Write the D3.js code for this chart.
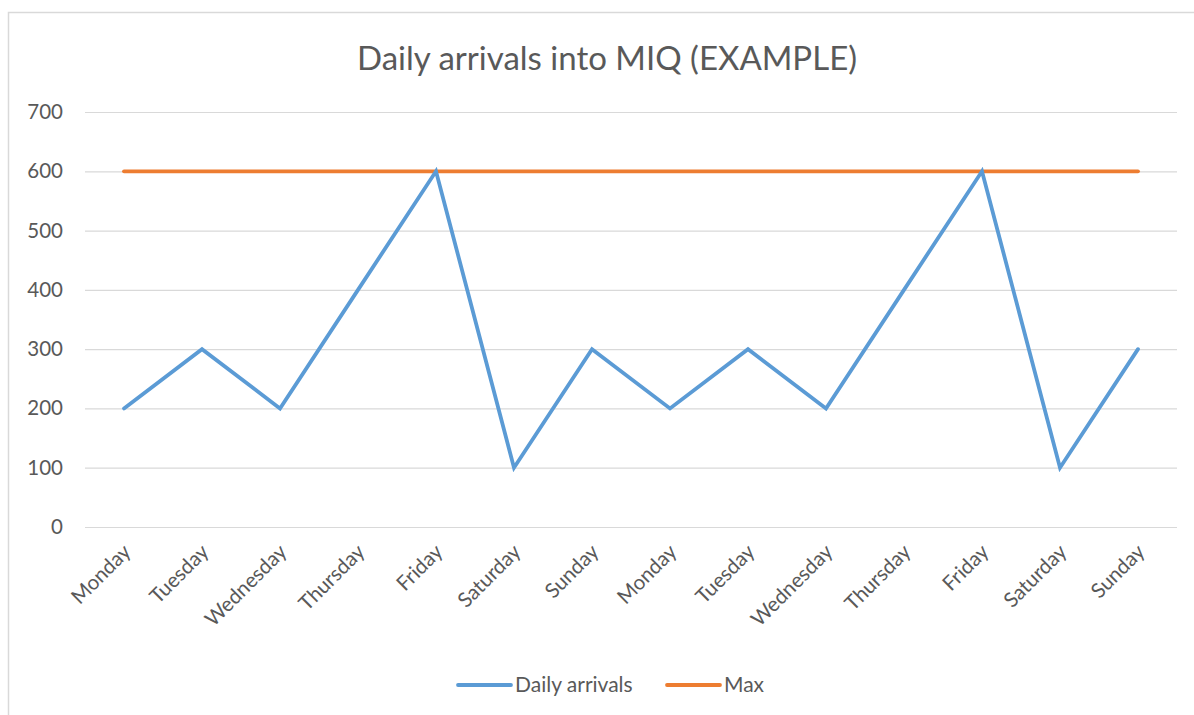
<!DOCTYPE html>
<html>
<head>
<meta charset="utf-8">
<script src="https://cdn.jsdelivr.net/npm/d3@7"></script>
<style>
  body { margin: 0; background: #fff; }
  svg text { font-family: Lato, "Open Sans", sans-serif; fill: #595959; }
</style>
</head>
<body>
<div id="chart"></div>
<script>
// Chart data
const days = ['Monday', 'Tuesday', 'Wednesday', 'Thursday', 'Friday', 'Saturday', 'Sunday',
	'Monday', 'Tuesday', 'Wednesday', 'Thursday', 'Friday', 'Saturday', 'Sunday'];
const arrivals = [200, 300, 200, 400, 600, 100, 300, 200, 300, 200, 400, 600, 100, 300];
const maxValues = [600, 600, 600, 600, 600, 600, 600, 600, 600, 600, 600, 600, 600, 600];
const yTicks = [0, 100, 200, 300, 400, 500, 600, 700];

const width = 1194;
const height = 715;
const marginTop = 112;
const marginRight = 17;
const marginBottom = 188;
const marginLeft = 85;

const svg = d3.select('#chart')
	.append('svg')
	.attr('width', width)
	.attr('height', height)
	.attr('viewBox', [0, 0, width, height]);

// Outer frame
svg.append('rect')
	.attr('x', 8.5)
	.attr('y', 12.5)
	.attr('width', width)
	.attr('height', height)
	.attr('fill', 'none')
	.attr('stroke', '#d9d9d9')
	.attr('stroke-width', 1.5);

// Domain indices keep repeated day names apart
const x = d3.scaleBand()
	.domain(days.map((d, i) => i))
	.range([marginLeft, width - marginRight]);

const y = d3.scaleLinear()
	.domain([0, 700])
	.range([height - marginBottom, marginTop]);

// Gridlines + y labels
const yAxis = svg.append('g')
	.attr('transform', 'translate(' + marginLeft + ',0)')
	.call(d3.axisLeft(y)
		.tickValues(yTicks)
		.tickSize(-(width - marginLeft - marginRight))
		.tickPadding(22));
yAxis.select('.domain').remove();
yAxis.selectAll('.tick line').attr('stroke', '#d9d9d9').attr('stroke-width', 1.2);
yAxis.selectAll('.tick text').style('font-size', '20.5px');

// X labels, rotated
const xAxis = svg.append('g')
	.attr('transform', 'translate(0,' + (height - marginBottom) + ')')
	.call(d3.axisBottom(x).tickSize(0).tickFormat((i) => days[i]));
xAxis.select('.domain').remove();
xAxis.selectAll('.tick text')
	.style('font-size', '20.5px')
	.attr('text-anchor', 'end')
	.attr('dy', 0)
	.attr('y', 0)
	.attr('transform', 'translate(8,26) rotate(-45)');

const line = d3.line()
	.x((d, i) => x(i) + x.bandwidth() / 2)
	.y((d) => y(d));

svg.append('path')
	.datum(maxValues)
	.attr('fill', 'none')
	.attr('stroke', '#ED7D31')
	.attr('stroke-width', 3.8)
	.attr('stroke-linecap', 'round')
	.attr('d', line);

svg.append('path')
	.datum(arrivals)
	.attr('fill', 'none')
	.attr('stroke', '#5B9BD5')
	.attr('stroke-width', 3.8)
	.attr('stroke-linejoin', 'miter')
	.attr('stroke-linecap', 'round')
	.attr('d', line);

// Title
svg.append('text')
	.attr('x', 607)
	.attr('y', 70)
	.attr('text-anchor', 'middle')
	.style('font-size', '33px')
	.text('Daily arrivals into MIQ (EXAMPLE)');

// Legend
const legendItems = [
	{ name: 'Daily arrivals', color: '#5B9BD5', x: 458 },
	{ name: 'Max', color: '#ED7D31', x: 667 }
];
const legend = svg.append('g');
legendItems.forEach((d) => {
	legend.append('line')
		.attr('x1', d.x).attr('x2', d.x + 53)
		.attr('y1', 685).attr('y2', 685)
		.attr('stroke', d.color)
		.attr('stroke-width', 3.8)
		.attr('stroke-linecap', 'round');
	legend.append('text')
		.attr('x', d.x + 57)
		.attr('y', 692)
		.style('font-size', '21px')
		.text(d.name);
});
</script>
</body>
</html>
